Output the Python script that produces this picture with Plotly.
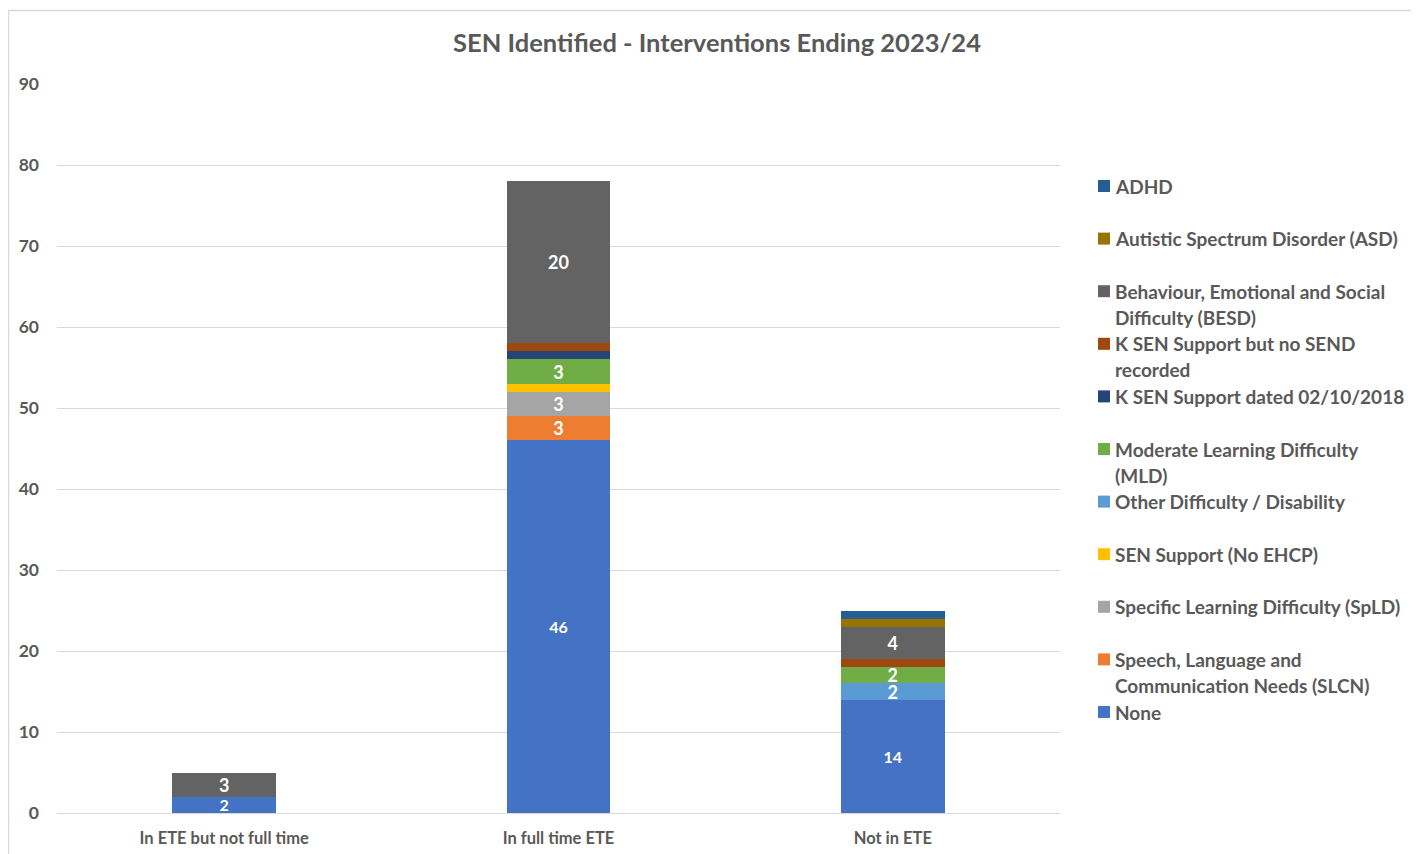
import plotly.graph_objects as go

categories = ["In ETE but not full time", "In full time ETE", "Not in ETE"]

# Series in stacking order (bottom to top)
series_names = [
    "None",
    "Speech, Language and Communication Needs (SLCN)",
    "Specific Learning Difficulty (SpLD)",
    "SEN Support (No EHCP)",
    "Other Difficulty / Disability",
    "Moderate Learning Difficulty (MLD)",
    "K SEN Support dated 02/10/2018",
    "K SEN Support but no SEND recorded",
    "Behaviour, Emotional and Social Difficulty (BESD)",
    "Autistic Spectrum Disorder (ASD)",
    "ADHD",
]

none_vals = [2, 46, 14]
slcn_vals = [0, 3, 0]
spld_vals = [0, 3, 0]
sen_support_vals = [0, 1, 0]
other_vals = [0, 0, 2]
mld_vals = [0, 3, 2]
k_dated_vals = [0, 1, 0]
k_nosend_vals = [0, 1, 1]
besd_vals = [3, 20, 4]
asd_vals = [0, 0, 1]
adhd_vals = [0, 0, 1]

series_values = [none_vals, slcn_vals, spld_vals, sen_support_vals, other_vals,
                 mld_vals, k_dated_vals, k_nosend_vals, besd_vals, asd_vals, adhd_vals]

colors = ["#4472C4", "#ED7D31", "#A5A5A5", "#FFC000", "#5B9BD5", "#70AD47",
          "#264478", "#9E480E", "#636363", "#997300", "#255E91"]

# Legend text lines (wrapped as in the original legend)
legend_lines = {
    "ADHD": ["ADHD"],
    "Autistic Spectrum Disorder (ASD)": ["Autistic Spectrum Disorder (ASD)"],
    "Behaviour, Emotional and Social Difficulty (BESD)": ["Behaviour, Emotional and Social", "Difficulty (BESD)"],
    "K SEN Support but no SEND recorded": ["K SEN Support but no SEND", "recorded"],
    "K SEN Support dated 02/10/2018": ["K SEN Support dated 02/10/2018"],
    "Moderate Learning Difficulty (MLD)": ["Moderate Learning Difficulty", "(MLD)"],
    "Other Difficulty / Disability": ["Other Difficulty / Disability"],
    "SEN Support (No EHCP)": ["SEN Support (No EHCP)"],
    "Specific Learning Difficulty (SpLD)": ["Specific Learning Difficulty (SpLD)"],
    "Speech, Language and Communication Needs (SLCN)": ["Speech, Language and", "Communication Needs (SLCN)"],
    "None": ["None"],
}

FONT = "Lato"
GREY = "#595959"
OFF = 8  # default page margin around the figure
W, H = 1419 - OFF, 854 - OFF
# plot area in window pixels
RX0, RX1, RY0, RY1 = 57, 1060, 84, 813
PX0, PX1, PY0, PY1 = RX0 - OFF, RX1 - OFF, RY0 - OFF, RY1 - OFF


def px_x(px):
    return (px - RX0) / (RX1 - RX0)


def px_y(py):
    return (RY1 - py) / (RY1 - RY0)


fig = go.Figure()
for name, vals, col in zip(series_names, series_values, colors):
    texts = [str(v) if v >= 2 else "" for v in vals]
    size = 16 if name == "None" else 18
    fig.add_trace(go.Bar(
        x=categories, y=vals, name=name,
        marker=dict(color=col, line=dict(width=0)),
        text=texts, textposition="inside", insidetextanchor="middle",
        textangle=0, constraintext="none",
        textfont=dict(family=FONT, size=size, color="white", weight="bold"),
        showlegend=False, hoverinfo="skip",
    ))

# Manual legend (Excel-style, uniform slots)
shapes = []
annotations = []
first_y = 186
slot = 52.6
line_gap = 26
for i, name in enumerate(reversed(series_names)):
    col = colors[series_names.index(name)]
    cy = first_y + i * slot
    shapes.append(dict(type="rect", xref="paper", yref="paper",
                       x0=px_x(1098), x1=px_x(1110), y0=px_y(cy + 6), y1=px_y(cy - 6),
                       fillcolor=col, line=dict(width=0), layer="above"))
    for j, line in enumerate(legend_lines[name]):
        annotations.append(dict(xref="paper", yref="paper", x=px_x(1113), y=px_y(cy + j * line_gap),
                                xanchor="left", yanchor="middle", showarrow=False, text=line,
                                font=dict(family=FONT, size=19, color=GREY, weight="bold")))

# Chart border
shapes.append(dict(type="rect", xref="paper", yref="paper",
                   x0=px_x(8.5), x1=px_x(1440), y0=px_y(880), y1=px_y(10.5),
                   line=dict(color="#D9D9D9", width=1.5), fillcolor="rgba(0,0,0,0)", layer="below"))

fig.update_layout(
    width=W, height=H,
    barmode="stack", bargap=0.69,
    paper_bgcolor="white", plot_bgcolor="white",
    margin=dict(l=PX0, r=W - PX1, t=PY0, b=H - PY1, pad=0, autoexpand=False),
    title=dict(text="SEN Identified - Interventions Ending 2023/24",
               x=(717 - OFF) / W, xanchor="center", y=1 - (43 - OFF) / H, yanchor="middle",
               font=dict(family=FONT, size=25.5, color=GREY, weight="bold")),
    font=dict(family=FONT, color=GREY),
    shapes=shapes, annotations=annotations,
    showlegend=False,
)
fig.update_yaxes(range=[0, 90], dtick=10, showgrid=True, gridcolor="#D9D9D9", gridwidth=1,
                 zeroline=True, zerolinecolor="#D9D9D9", zerolinewidth=1, showline=False,
                 ticks="", ticklabelstandoff=17, automargin=False,
                 tickfont=dict(family=FONT, size=17.5, color=GREY, weight="bold"), fixedrange=True)
fig.update_xaxes(showline=False, ticks="", ticklabelstandoff=13, automargin=False,
                 tickfont=dict(family=FONT, size=16.5, color=GREY, weight="bold"), fixedrange=True)

fig.write_html("out.html", config={"displayModeBar": False})
